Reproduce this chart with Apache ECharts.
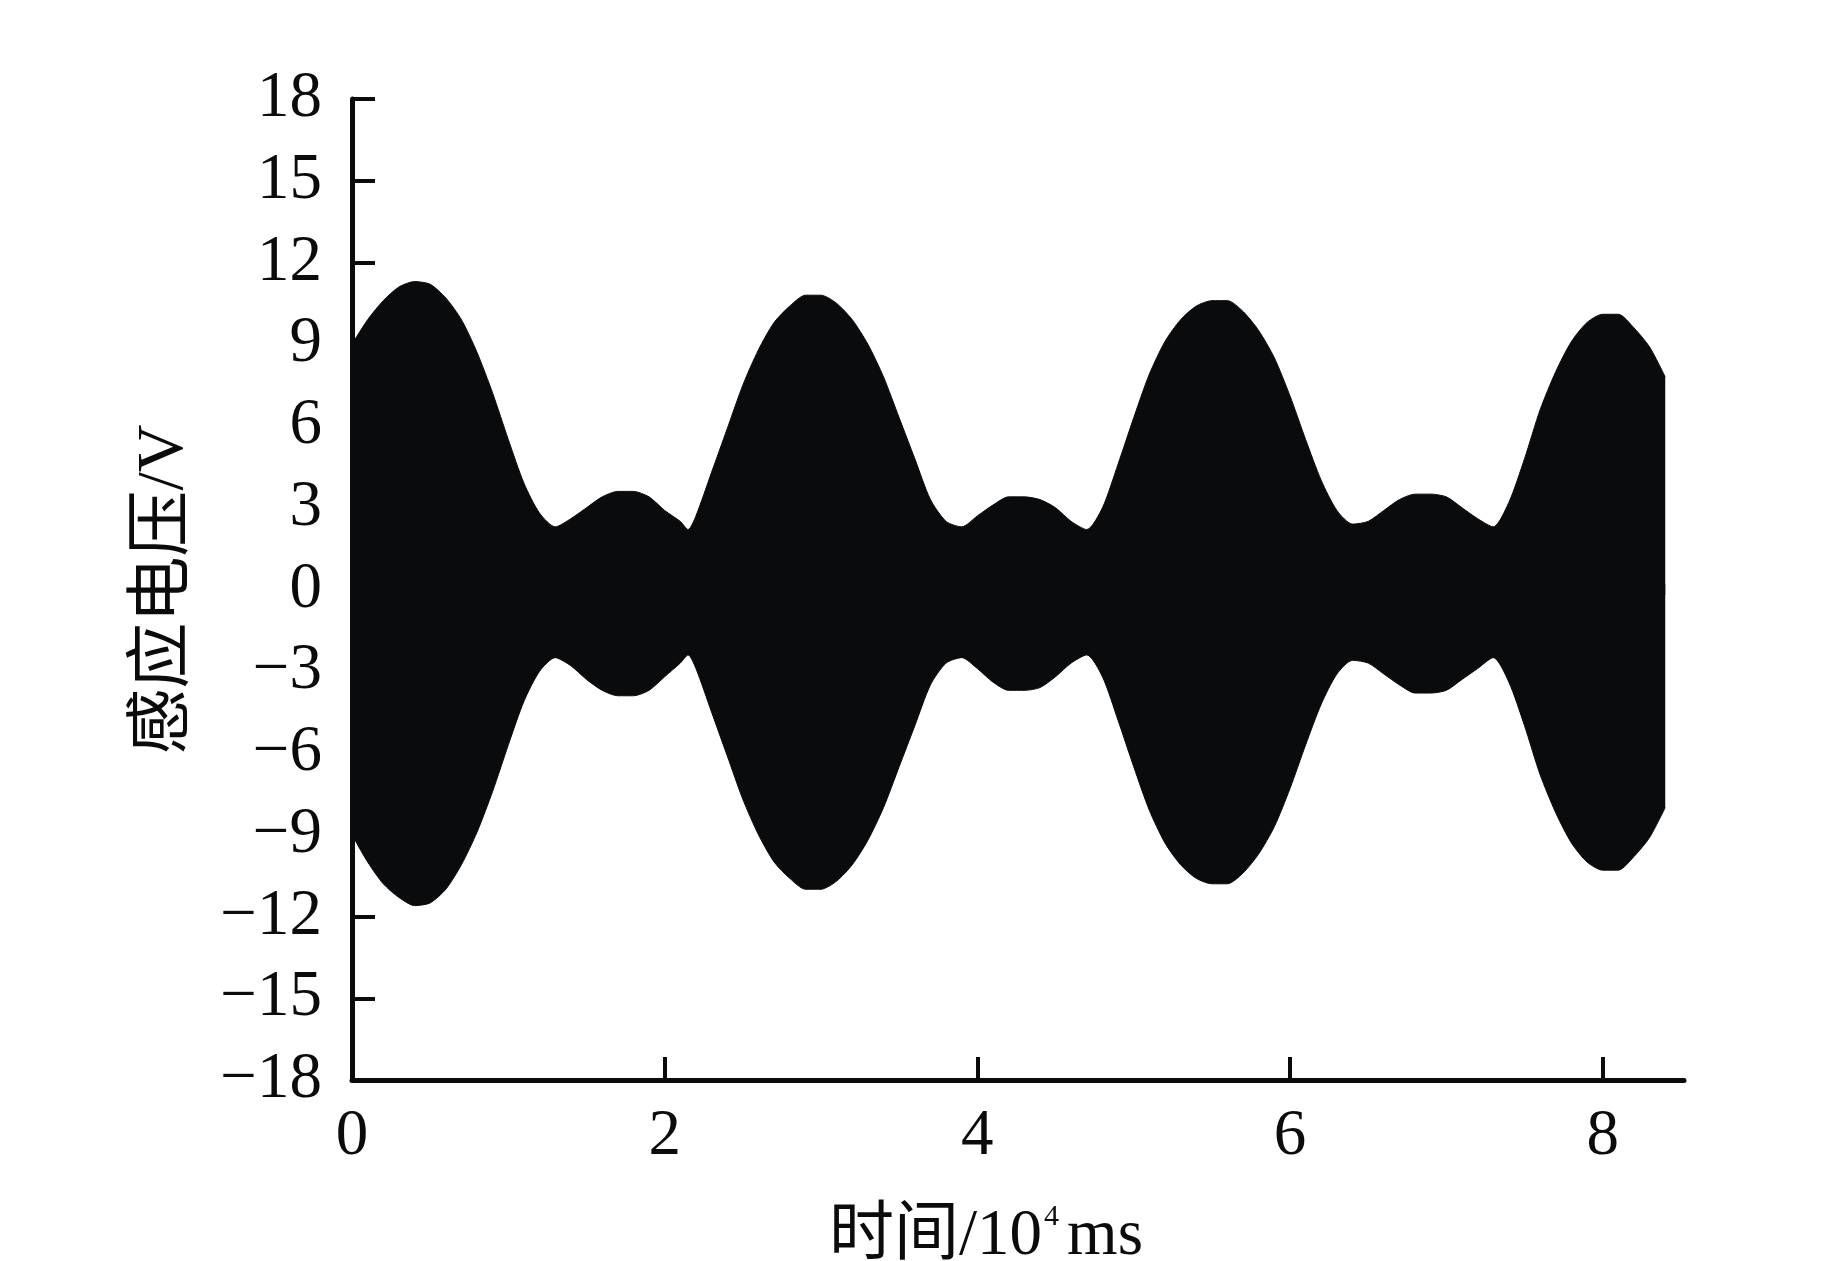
<!DOCTYPE html>
<html>
<head>
<meta charset="utf-8">
<script src="https://cdn.jsdelivr.net/npm/echarts@6/dist/echarts.min.js"></script>
<style>
html,body{margin:0;padding:0;background:#fff;}
#chart{width:1843px;height:1261px;}
</style>
</head>
<body>
<div id="chart"></div>
<script>
// time, unit 10^4 ms
const timeValues = [0.0,0.1,0.2,0.3,0.4,0.5,0.6,0.7,0.8,0.9,1.0,1.1,1.2,1.3,1.4,1.5,1.6,1.7,1.8,1.9,2.0,2.1,2.15,2.2,2.3,2.4,2.5,2.6,2.7,2.8,2.9,3.0,3.1,3.2,3.3,3.4,3.5,3.6,3.7,3.8,3.9,4.0,4.1,4.2,4.3,4.4,4.5,4.6,4.7,4.8,4.9,5.0,5.1,5.2,5.3,5.4,5.5,5.6,5.7,5.8,5.9,6.0,6.1,6.2,6.3,6.4,6.5,6.6,6.7,6.8,6.9,7.0,7.1,7.2,7.3,7.4,7.5,7.6,7.7,7.8,7.9,8.0,8.1,8.2,8.3,8.4];
// upper envelope of induced voltage (V)
const upperEnvelope = [9.0,9.9,10.6,11.1,11.3,11.2,10.7,9.9,8.7,7.2,5.5,3.9,2.8,2.3,2.6,3.0,3.4,3.6,3.6,3.4,2.9,2.5,2.2,2.7,4.3,5.9,7.5,8.8,9.8,10.4,10.8,10.8,10.5,9.9,9.0,7.8,6.3,4.8,3.3,2.5,2.3,2.7,3.1,3.4,3.4,3.3,3.0,2.5,2.2,3.0,4.6,6.3,7.9,9.1,9.9,10.4,10.6,10.6,10.2,9.5,8.5,7.1,5.5,4.0,2.9,2.4,2.5,2.9,3.3,3.5,3.5,3.4,3.0,2.6,2.3,3.2,4.8,6.6,8.0,9.1,9.8,10.1,10.1,9.6,8.9,7.8];
// lower envelope of induced voltage (V)
const lowerEnvelope = [-9.0,-10.0,-10.8,-11.3,-11.6,-11.5,-11.0,-10.1,-8.9,-7.4,-5.7,-4.1,-3.0,-2.5,-2.8,-3.3,-3.7,-3.9,-3.9,-3.7,-3.2,-2.7,-2.4,-2.9,-4.5,-6.1,-7.7,-9.0,-10.0,-10.6,-11.0,-11.0,-10.7,-10.1,-9.2,-8.0,-6.5,-5.0,-3.5,-2.7,-2.5,-2.9,-3.4,-3.7,-3.7,-3.6,-3.2,-2.7,-2.4,-3.2,-4.8,-6.5,-8.1,-9.3,-10.1,-10.6,-10.8,-10.8,-10.4,-9.7,-8.7,-7.3,-5.7,-4.2,-3.1,-2.6,-2.7,-3.1,-3.5,-3.8,-3.8,-3.7,-3.3,-2.9,-2.5,-3.4,-5.0,-6.8,-8.2,-9.3,-10.0,-10.3,-10.3,-9.8,-9.1,-8.0];
const xTicks = [0,2,4,6,8];
const yTicks = [-18,-15,-12,-9,-6,-3,0,3,6,9,12,15,18];

const upperData = timeValues.map((t,i)=>[t, upperEnvelope[i]]);
const lowerData = timeValues.map((t,i)=>[t, lowerEnvelope[i]]);

const ink = '#0a0b0d';
const serif = '"Liberation Serif", "Times New Roman", "Noto Sans CJK SC", serif';

const chart = echarts.init(document.getElementById('chart'), null, {renderer:'canvas'});
chart.setOption({
  animation:false,
  backgroundColor:'#fff',
  grid:{left:352, right:159, top:99, bottom:181, containLabel:false, outerBoundsMode:'none'},
  xAxis:{
    type:'value', min:0, max:8.52,
    name:'{a|时间/10}{s|4}{a|ms}',
    nameLocation:'middle', nameGap:122,
    nameTextStyle:{
      padding:[0,64,0,0],
      rich:{
        a:{fontFamily:serif, fontSize:65, color:ink, lineHeight:70},
        s:{fontFamily:serif, fontSize:30, color:ink, verticalAlign:'top', lineHeight:70, padding:[0,8,0,2]}
      }
    },
    axisLine:{show:true, onZero:false, lineStyle:{color:ink, width:5}},
    axisTick:{show:true, inside:true, length:23, customValues:xTicks, lineStyle:{color:ink, width:4}},
    axisLabel:{customValues:xTicks, margin:24, fontFamily:serif, fontSize:65, color:ink},
    splitLine:{show:false}
  },
  yAxis:{
    type:'value', min:-18, max:18, interval:3,
    name:'感应电压/V', nameLocation:'middle', nameGap:154, nameRotate:90,
    nameTextStyle:{fontFamily:serif, fontSize:66, color:ink},
    axisLine:{show:true, onZero:false, lineStyle:{color:ink, width:5}},
    axisTick:{show:true, inside:true, length:23, customValues:yTicks.filter(v=>v>-18), lineStyle:{color:ink, width:4}},
    axisLabel:{customValues:yTicks, margin:30, fontFamily:serif, fontSize:65, color:ink,
      formatter:(v)=> (v<0 ? '\u2212' + Math.abs(v) : String(v))},
    splitLine:{show:false}
  },
  series:[
    {type:'line', data:upperData, showSymbol:false, smooth:0.25,
     lineStyle:{color:ink, width:1}, areaStyle:{color:ink, opacity:1, origin:-0.2}, z:1},
    {type:'line', data:lowerData, showSymbol:false, smooth:0.25,
     lineStyle:{color:ink, width:1}, areaStyle:{color:ink, opacity:1, origin:0.2}, z:1}
  ]
});
</script>
</body>
</html>
